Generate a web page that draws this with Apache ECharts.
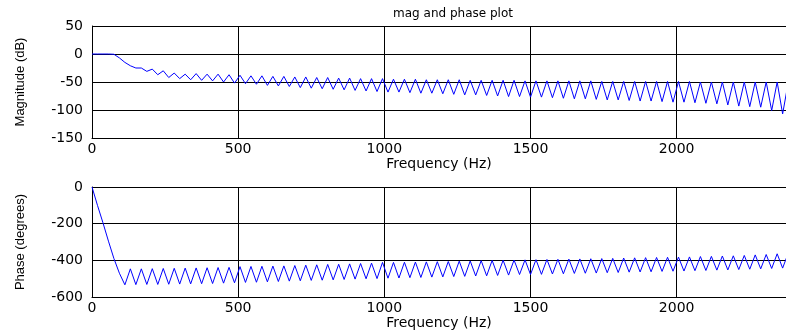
<!DOCTYPE html>
<html>
<head>
<meta charset="utf-8">
<script src="https://cdn.jsdelivr.net/npm/echarts@6/dist/echarts.min.js"></script>
<style>
  html, body { margin: 0; padding: 0; background: #fff; }
  #chart { width: 786px; height: 331px; }
</style>
</head>
<body>
<div id="chart"></div>
<script>
// freqz grid: 128 bins, 18.75 Hz apart
var freqStep = 18.75;

// magnitude (dB), one value per bin
var magDb = [
  0, 0, 0, 0, -0.5, -7, -15, -21, -25, -25,
  -31, -27, -37, -30, -42, -34, -44, -36, -46, -35,
  -47, -36, -48, -36, -50, -37, -52, -38, -53, -39,
  -54, -39, -56, -40, -57, -40, -58, -41, -60, -41,
  -61, -42, -62, -42, -63, -43, -64, -43, -65, -44,
  -66, -44, -67, -44, -68, -45, -68, -45, -69, -45,
  -70, -46, -70, -46, -71, -46, -72, -46, -73, -47,
  -73, -47, -74, -47, -75, -47, -76, -47, -76, -48,
  -77, -48, -77, -48, -78, -48, -79, -48, -80, -48,
  -80, -48, -81, -49, -82, -49, -82, -49, -83, -49,
  -84, -49, -84, -49, -85, -49, -86, -49, -86, -49,
  -87, -50, -88, -50, -89, -50, -91, -50, -93, -50,
  -94, -50, -95, -50, -101, -50, -107, -52
];

// phase (degrees), one value per bin
var phaseDeg = [
  0, -100, -195, -295, -390, -470, -533, -446, -532, -446,
  -531, -445, -531, -444, -530, -443, -529, -442, -528, -441,
  -527, -440, -526, -439, -524, -438, -522, -434, -520, -433,
  -519, -432, -517, -431, -515, -430, -513, -428, -511, -426,
  -509, -424, -508, -422, -506, -421, -504, -419, -502, -417,
  -500, -415, -499, -411, -497, -411, -496, -410, -494, -409,
  -493, -408, -491, -407, -490, -406, -488, -404, -487, -403,
  -485, -401, -484, -400, -482, -399, -480, -398, -477, -397,
  -477, -396, -476, -395, -474, -394, -473, -393, -471, -392,
  -470, -391, -469, -390, -467, -389, -466, -387, -464, -386,
  -463, -385, -462, -384, -460, -383, -459, -382, -458, -381,
  -456, -379, -455, -378, -453, -376, -452, -375, -450, -373,
  -448, -370, -446, -368, -444, -364, -442, -362
];

var magTicks = { min: -150, max: 50, interval: 50 };
var phaseTicks = { min: -600, max: 0, interval: 200 };
var freqTicks = { min: 0, max: 2374, interval: 500 };

function pairs(vals) {
  return vals.map(function (v, i) { return [i * freqStep, v]; });
}

var tickFont = 'DejaVu Sans';
var nameFont = 'Liberation Sans';

function plain(v) { return String(v); }

function xAx(idx) {
  return {
    gridIndex: idx,
    type: 'value',
    min: freqTicks.min,
    max: freqTicks.max,
    interval: freqTicks.interval,
    name: 'Frequency (Hz)',
    nameLocation: 'middle',
    nameGap: 16,
    nameTextStyle: { fontFamily: tickFont, fontSize: 14, color: '#000' },
    axisLine: { show: true, onZero: false, lineStyle: { color: '#000', width: 1 } },
    axisTick: { show: false },
    axisLabel: { fontFamily: tickFont, fontSize: 14, color: '#000', margin: 4, showMaxLabel: false, formatter: plain },
    splitLine: { show: true, lineStyle: { color: '#000', width: 1 } }
  };
}

function yAx(idx, ticks, name) {
  return {
    gridIndex: idx,
    type: 'value',
    min: ticks.min,
    max: ticks.max,
    interval: ticks.interval,
    name: name,
    nameLocation: 'middle',
    nameRotate: 90,
    nameGap: 65,
    nameTextStyle: { fontFamily: nameFont, fontSize: 13, color: '#000' },
    axisLine: { show: true, lineStyle: { color: '#000', width: 1 } },
    axisTick: { show: false },
    axisLabel: { fontFamily: tickFont, fontSize: 14, color: '#000', margin: 9, formatter: plain },
    splitLine: { show: true, lineStyle: { color: '#000', width: 1 } }
  };
}

var chart = echarts.init(document.getElementById('chart'), null, { renderer: 'canvas' });
chart.setOption({
  backgroundColor: '#fff',
  animation: false,
  title: {
    text: 'mag and phase plot',
    left: 448,
    top: 3,
    textAlign: 'center',
    textStyle: { fontFamily: tickFont, fontSize: 12, fontWeight: 'normal', color: '#000' }
  },
  grid: [
    { left: 92, top: 26, right: 0, height: 112 },
    { left: 92, top: 187, right: 0, height: 113 }
  ],
  xAxis: [xAx(0), xAx(1)],
  yAxis: [
    yAx(0, magTicks, 'Magnitude (dB)'),
    yAx(1, phaseTicks, 'Phase (degrees)')
  ],
  series: [
    {
      type: 'line', xAxisIndex: 0, yAxisIndex: 0,
      data: pairs(magDb), showSymbol: false, clip: true,
      lineStyle: { color: '#0000ff', width: 1 }
    },
    {
      type: 'line', xAxisIndex: 1, yAxisIndex: 1,
      data: pairs(phaseDeg), showSymbol: false, clip: true,
      lineStyle: { color: '#0000ff', width: 1 }
    }
  ]
});
</script>
</body>
</html>
